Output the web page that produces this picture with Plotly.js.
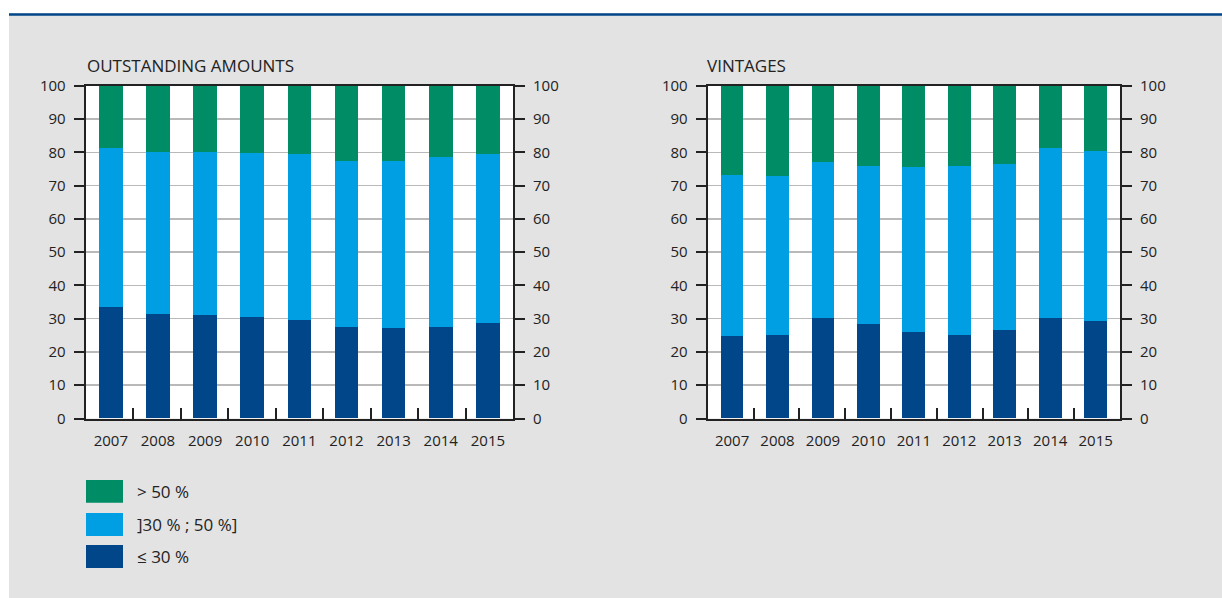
<!DOCTYPE html>
<html><head><meta charset="utf-8">
<script src="https://cdn.plot.ly/plotly-3.0.1.min.js"></script>
<style>html,body{margin:0;padding:0;background:#fff;}#chart{width:1222px;height:598px;}</style>
</head><body><div id="chart"></div>
<script>
const years = ['2007','2008','2009','2010','2011','2012','2013','2014','2015'];
const outLow  = [33.4,31.3,31.0,30.4,29.5,27.4,27.1,27.4,28.6];
const outMid  = [47.8,48.7,49.0,49.3,49.9,49.9,50.2,51.1,50.8];
const outHigh = [18.8,20.0,20.0,20.3,20.6,22.7,22.7,21.5,20.6];
const vinLow  = [24.9,25.2,30.3,28.5,26.1,25.2,26.7,30.3,29.4];
const vinMid  = [48.4,47.8,46.9,47.5,49.6,50.8,49.9,51.1,51.1];
const vinHigh = [26.7,27.0,22.8,24.0,24.3,24.0,23.4,18.6,19.5];
const seriesNames = ['≤ 30 %', ']30 % ; 50 %]', '> 50 %'];
const panelTitles = ['OUTSTANDING AMOUNTS', 'VINTAGES'];
const yTicks = [0,10,20,30,40,50,60,70,80,90,100];

const W = 1222, H = 598;
const fx = p => p / W;
const fy = p => 1 - p / H;
const colors = ['#004688', '#009fe3', '#008c64'];
const FONT = '"Open Sans", "Noto Sans", sans-serif';
const INK = '#222222';
const boundaries = years.slice(1).map((_, i) => i + 0.5);

function bars(xa, ya, arrs) {
  return arrs.map((v, i) => ({
    type: 'bar', x: years, y: v, name: seriesNames[i], xaxis: xa, yaxis: ya,
    marker: {color: colors[i], line: {width: 0}}, showlegend: false, hoverinfo: 'y'
  }));
}
const dummy = (xa, ya) => ({type: 'scatter', mode: 'markers', x: [0], y: [null], xaxis: xa, yaxis: ya, showlegend: false, hoverinfo: 'skip'});
const traces = [
  ...bars('x', 'y', [outLow, outMid, outHigh]),
  ...bars('x2', 'y3', [vinLow, vinMid, vinHigh]),
  {type: 'scatter', x: years, y: years.map(() => null), xaxis: 'x', yaxis: 'y2', showlegend: false, hoverinfo: 'skip'},
  {type: 'scatter', x: years, y: years.map(() => null), xaxis: 'x2', yaxis: 'y4', showlegend: false, hoverinfo: 'skip'},
  dummy('x3', 'y'), dummy('x4', 'y3')
];

function xAx(domain, anchor) {
  return {domain, anchor, type: 'category', showline: true, linecolor: INK, linewidth: 2, mirror: true,
    ticks: '', ticklabelstandoff: 7,
    showgrid: false, zeroline: false, tickfont: {family: FONT, size: 15, color: INK}, fixedrange: true};
}
function xTickAx(domain, anchor, overlay) {
  return {domain, anchor, overlaying: overlay, type: 'linear', range: [-0.5, years.length - 0.5],
    tickvals: boundaries, ticks: 'inside', ticklen: 11, tickwidth: 2, tickcolor: INK,
    showticklabels: false, showline: false, showgrid: false, zeroline: false, side: 'bottom', fixedrange: true};
}
function yAx(domain, anchor, side, overlay) {
  const a = {domain, anchor, side, range: [0, 100], tickvals: yTicks, ticktext: yTicks.map(String),
    showgrid: !overlay, gridcolor: '#b9b9b9', gridwidth: 1.5, ticks: 'outside', ticklen: 10, tickwidth: 2,
    tickcolor: INK, showline: true, linewidth: 2, linecolor: INK, zeroline: false,
    ticklabelstandoff: 5, tickfont: {family: FONT, size: 15, color: INK}, fixedrange: true};
  if (overlay) a.overlaying = overlay;
  return a;
}
const yDom = [fy(418.5), fy(85.7)];
const xDomL = [fx(85.7), fx(513)];
const xDomR = [fx(707.7), fx(1120)];

const shapes = [
  {type: 'rect', xref: 'paper', yref: 'paper', x0: 0, x1: 1, y0: fy(13.3), y1: 1, fillcolor: '#ffffff', line: {width: 0}, layer: 'below'},
  {type: 'rect', xref: 'paper', yref: 'paper', x0: 0, x1: fx(9), y0: 0, y1: 1, fillcolor: '#ffffff', line: {width: 0}, layer: 'below'},
  {type: 'rect', xref: 'paper', yref: 'paper', x0: fx(9), x1: 1, y0: fy(15.7), y1: fy(13.3), fillcolor: '#004688', line: {width: 0}, layer: 'below'}
];
const legendRows = [[480, 502.7, 2], [513, 536, 1], [545, 568, 0]];
const annotations = [
  {text: panelTitles[0], xref: 'paper', yref: 'paper', x: fx(85), y: fy(65), xanchor: 'left', yanchor: 'middle', showarrow: false, font: {family: FONT, size: 17, color: INK}},
  {text: panelTitles[1], xref: 'paper', yref: 'paper', x: fx(705), y: fy(65), xanchor: 'left', yanchor: 'middle', showarrow: false, font: {family: FONT, size: 17, color: INK}}
];
legendRows.forEach(([t, b, i]) => {
  shapes.push({type: 'rect', xref: 'paper', yref: 'paper', x0: fx(86), x1: fx(123), y0: fy(b), y1: fy(t), fillcolor: colors[i], line: {width: 0}});
  annotations.push({text: seriesNames[i], xref: 'paper', yref: 'paper', x: fx(135), y: fy((t + b) / 2), xanchor: 'left', yanchor: 'middle', showarrow: false, font: {family: FONT, size: 17, color: INK}});
});

const layout = {
  width: W, height: H, margin: {l: 0, r: 0, t: 0, b: 0},
  paper_bgcolor: '#e3e3e3', plot_bgcolor: '#ffffff',
  barmode: 'stack', bargap: 0.5, showlegend: false,
  xaxis: xAx(xDomL, 'y'),
  yaxis: yAx(yDom, 'x', 'left'),
  yaxis2: yAx(yDom, 'x', 'right', 'y'),
  xaxis2: xAx(xDomR, 'y3'),
  yaxis3: yAx(yDom, 'x2', 'left'),
  yaxis4: yAx(yDom, 'x2', 'right', 'y3'),
  xaxis3: xTickAx(xDomL, 'y', 'x'),
  xaxis4: xTickAx(xDomR, 'y3', 'x2'),
  shapes, annotations
};
Plotly.newPlot('chart', traces, layout, {displayModeBar: false, staticPlot: true});
</script></body></html>
